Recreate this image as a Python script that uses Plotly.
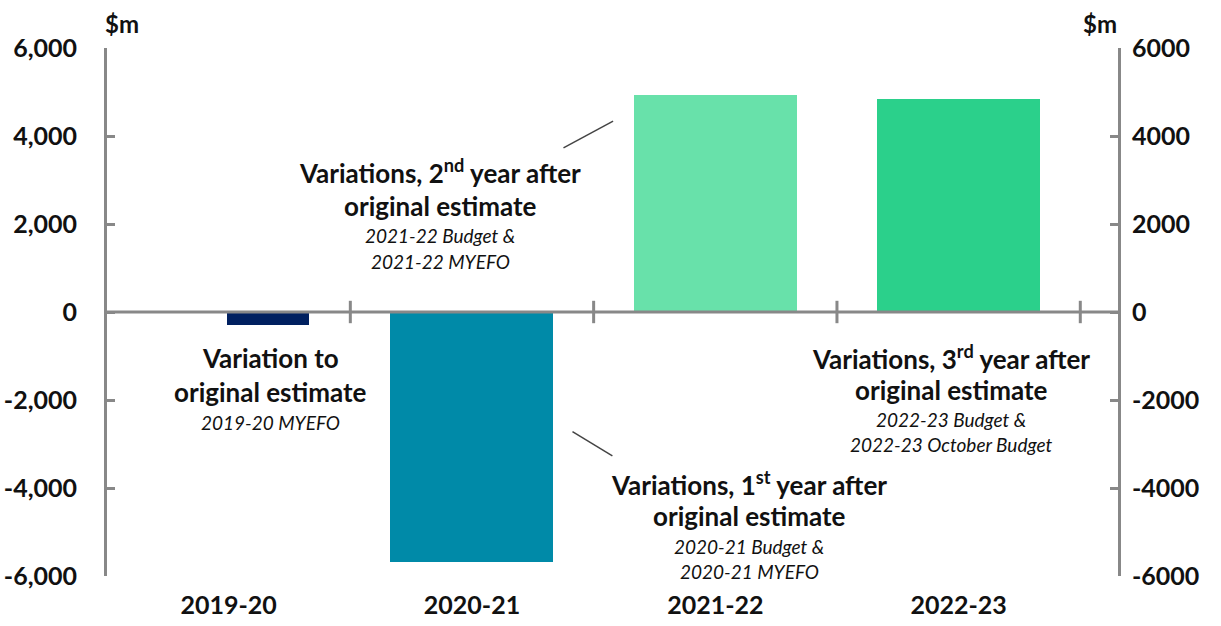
import plotly.graph_objects as go

# Fiscal years and variation amounts ($m)
years = ["2019-20", "2020-21", "2021-22", "2022-23"]
variations = [-300, -5690, 4940, 4850]
bar_colors = ["#002060", "#008AA8", "#68E1AA", "#2BD08B"]

# Axis ticks
y_ticks = [-6000, -4000, -2000, 0, 2000, 4000, 6000]
left_tick_labels = ["-6,000", "-4,000", "-2,000", "0", "2,000", "4,000", "6,000"]
right_tick_labels = ["-6000", "-4000", "-2000", "0", "2000", "4000", "6000"]

FONT = "Lato"
GREY = "#888888"
idx = list(range(len(years)))

# First year's bar only occupies the right half of its slot
bar_width = [0.335, 0.67, 0.67, 0.67]
bar_offset = [-0.005, -0.335, -0.335, -0.335]

fig = go.Figure()
fig.add_trace(go.Bar(
    x=idx, y=variations, width=bar_width, offset=bar_offset,
    marker=dict(color=bar_colors, line=dict(width=0)),
    hoverinfo="skip", showlegend=False,
))

# Category boundary tick marks across the zero line
boundaries = [i + 0.5 for i in idx]
fig.add_trace(go.Scatter(
    x=boundaries, y=[0] * len(boundaries), mode="markers",
    marker=dict(symbol="line-ns-open", size=16, color=GREY,
                line=dict(color=GREY, width=3)),
    hoverinfo="skip", showlegend=False,
))
# invisible trace to activate the right-hand axis
fig.add_trace(go.Scatter(x=[idx[0]], y=[0], yaxis="y2", mode="markers",
                         marker=dict(opacity=0), hoverinfo="skip", showlegend=False))

axis_font = dict(family=FONT, size=25, color="#111111", weight="bold")

fig.update_layout(
    width=1221, height=626,
    margin=dict(l=107, r=103, t=48, b=50),
    plot_bgcolor="white", paper_bgcolor="white",
    bargap=0,
    xaxis=dict(
        range=[-0.5, 3.655], tickvals=idx, ticktext=years,
        showline=False, showgrid=False, zeroline=False, ticks="",
        tickfont=axis_font, ticklabelstandoff=12, automargin=False,
    ),
    yaxis=dict(
        range=[-6000, 6000], tickvals=y_ticks, ticktext=left_tick_labels,
        showline=True, linecolor=GREY, linewidth=3, mirror=False,
        ticks="inside", ticklen=8, tickwidth=3, tickcolor=GREY,
        showgrid=False, zeroline=False, tickfont=axis_font,
        ticklabelstandoff=22, automargin=False,
    ),
    yaxis2=dict(
        range=[-6000, 6000], tickvals=y_ticks, ticktext=right_tick_labels,
        overlaying="y", side="right",
        showline=True, linecolor=GREY, linewidth=3,
        ticks="inside", ticklen=8, tickwidth=3, tickcolor=GREY,
        showgrid=False, zeroline=False, tickfont=axis_font,
        ticklabelstandoff=6, automargin=False,
    ),
    shapes=[dict(type="line", xref="paper", yref="y", x0=0, x1=1, y0=0, y1=0,
                 line=dict(color=GREY, width=3), layer="above")],
)

bold = dict(family=FONT, size=26, color="#111111", weight="bold")
ital = dict(family=FONT, size=19, color="#111111", style="italic")


def label(x, y, text, font, yanchor="middle"):
    fig.add_annotation(x=x, y=y, xref="x", yref="y", text=text, showarrow=False,
                       font=font, xanchor="center", yanchor=yanchor)


# Unit labels above each axis
unit_font = dict(family=FONT, size=24, color="#111111", weight="bold")
fig.add_annotation(x=0, y=1, xref="paper", yref="paper", text="$m", showarrow=False,
                   font=unit_font, xanchor="center", yanchor="bottom", xshift=15, yshift=8)
fig.add_annotation(x=1, y=1, xref="paper", yref="paper", text="$m", showarrow=False,
                   font=unit_font, xanchor="center", yanchor="bottom", xshift=-18, yshift=8)

# 2019-20 label
label(0.17, -1050, "Variation to", bold)
label(0.17, -1820, "original estimate", bold)
label(0.17, -2500, "2019-20 MYEFO", ital)

# 2021-22 label (second year)
label(0.87, 3200, "Variations, 2<sup>nd</sup> year after", bold)
label(0.87, 2410, "original estimate", bold)
label(0.87, 1730, "2021-22 Budget &", ital)
label(0.87, 1150, "2021-22 MYEFO", ital)

# 2020-21 label (first year)
label(2.14, -3900, "Variations, 1<sup>st</sup> year after", bold)
label(2.14, -4630, "original estimate", bold)
label(2.14, -5320, "2020-21 Budget &", ital)
label(2.14, -5890, "2020-21 MYEFO", ital)

# 2022-23 label (third year)
label(2.97, -1030, "Variations, 3<sup>rd</sup> year after", bold)
label(2.97, -1780, "original estimate", bold)
label(2.97, -2450, "2022-23 Budget &", ital)
label(2.97, -3020, "2022-23 October Budget", ital)

# Leader lines from labels towards bars
fig.add_shape(type="line", xref="x", yref="y", x0=1.376, y0=3730, x1=1.58, y1=4340,
              line=dict(color="#444444", width=1.5))
fig.add_shape(type="line", xref="x", yref="y", x0=1.413, y0=-2720, x1=1.577, y1=-3270,
              line=dict(color="#444444", width=1.5))

fig.write_html("out.html")
